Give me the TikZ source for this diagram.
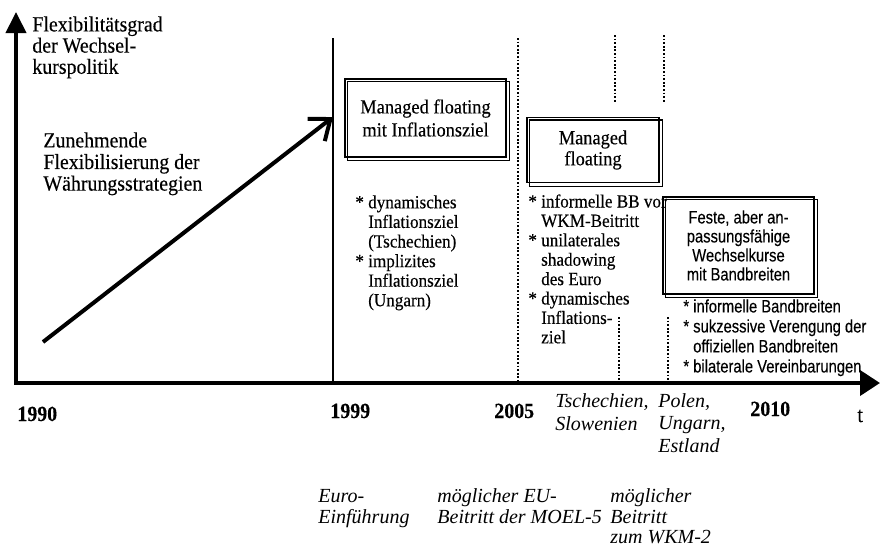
\documentclass[tikz,border=0pt]{standalone}
\usepackage{fontspec}
\setmainfont{Liberation Serif}
\newfontfamily\schmal[FakeStretch=0.92, FakeBold=0.25]{Liberation Serif}
\newfontfamily\schmalsans[FakeStretch=0.82, FakeBold=0.2]{Liberation Sans}
\usepackage{tikz}
\usetikzlibrary{arrows.meta}

\newcommand{\einr}{\hphantom{*\ }}

\begin{document}
\begin{tikzpicture}[
        x=0.5pt, y=-0.5pt,
        achse/.style={line width=2pt, line join=miter, {Triangle[length=10.5pt, width=10pt]}-{Triangle[length=10pt, width=12.5pt]}},
        trend/.style={line width=2pt, -{Straight Barb[length=9pt, width=14pt]}},
        grenze/.style={line width=0.8pt},
        termin/.style={line width=1.3pt, dash pattern=on 0.9pt off 0.9pt},
        stufe/.style={draw, line width=0.7pt, align=center, inner sep=0pt},
        rahmen/.style={line width=0.7pt},
        titel/.style={anchor=north west, inner sep=0pt, align=left, font=\schmal\fontsize{10.8}{10.6}\selectfont},
        liste/.style={anchor=north west, inner sep=0pt, align=left, font=\schmal\fontsize{9.3}{9.8}\selectfont},
        jahr/.style={anchor=base west, inner sep=0pt, font=\schmal\bfseries\fontsize{10.8}{12}\selectfont},
        ereignis/.style={anchor=north west, inner sep=0pt, align=left, font=\itshape\fontsize{10}{11.4}\selectfont}
    ]
    \useasboundingbox (0,0) rectangle (880,548);

    % Achsen
    \coordinate (ursprung) at (16,383);
    \coordinate (ytop) at (16,12);
    \coordinate (xend) at (880,383);
    \draw[achse] (ytop) -- (ursprung) -- (xend);

    \node[titel] (ytitel) at (32,16) {Flexibilitätsgrad\\der Wechsel-\\kurspolitik};
    \node[titel, font=\schmal\fontsize{10.8}{10.8}\selectfont] (flex) at (43,132) {Zunehmende\\Flexibilisierung der\\Währungsstrategien};

    % Zeitpunkte
    \coordinate (l99) at (333,38);
    \coordinate (l05) at (518,38);
    \coordinate (l04a) at (615,35);
    \coordinate (l04b) at (615,103);
    \coordinate (l04c) at (619,317);
    \coordinate (l07a) at (664,35);
    \coordinate (l07b) at (664,103);
    \coordinate (l07c) at (668,317);
    \draw[grenze] (l99) -- (l99 |- ursprung);
    \draw[termin] (l05) -- (l05 |- ursprung);
    \draw[termin] (l04a) -- (l04b);
    \draw[termin] (l04c) -- (l04c |- ursprung);
    \draw[termin] (l07a) -- (l07b);
    \draw[termin] (l07c) -- (l07c |- ursprung);

    \coordinate (trendstart) at (43,342);
    \coordinate (trendziel) at (333,117);
    \draw[trend] (trendstart) -- (trendziel);

    % Strategien
    \node[stufe, minimum width=80.5pt, minimum height=39pt, font=\schmal\fontsize{10}{11.5}\selectfont] (mf99) at (425.5,118) {Managed floating\\mit Inflationsziel};
    \node[liste] (liste99) at (355,195) {* dynamisches\\\einr Inflationsziel\\\einr (Tschechien)\\* implizites\\\einr Inflationsziel\\\einr (Ungarn)};

    \node[stufe, minimum width=66pt, minimum height=32.5pt, font=\schmal\fontsize{10}{10.5}\selectfont] (mf05) at (593,150) {Managed\\floating};
    \node[liste, font=\schmal\fontsize{9.3}{9.7}\selectfont] (liste05) at (528,194) {* informelle BB vor\\\einr WKM-Beitritt\\* unilaterales\\\einr shadowing\\\einr des Euro\\* dynamisches\\\einr Inflations-\\\einr ziel};

    \node[stufe, minimum width=75.5pt, minimum height=48.5pt, font=\schmalsans\fontsize{9}{9.5}\selectfont] (band) at (738.5,245.5) {Feste, aber an-\\passungsfähige\\Wechselkurse\\mit Bandbreiten};
    \node[liste, font=\schmalsans\fontsize{9}{10}\selectfont] (listeband) at (683,299) {* informelle Bandbreiten\\* sukzessive Verengung der\\\einr offiziellen Bandbreiten\\* bilaterale Vereinbarungen};

    % zweiter Rahmen, leicht versetzt
    \foreach \b in {mf99, mf05, band}
        \draw[rahmen] ([shift={(3,3)}]\b.north west) rectangle ([shift={(3,3)}]\b.south east);

    % Zeitachse
    \node[jahr] (j1990) at (17,421) {1990};
    \node[jahr] (j1999) at (330,418) {1999};
    \node[jahr] (j2005) at (494,418) {2005};
    \node[jahr] (j2010) at (750,416) {2010};
    \node[jahr, font=\schmal\fontsize{11}{12}\selectfont] (zeit) at (857,422) {t};

    \node[ereignis] (tsch) at (555,393) {Tschechien,\\Slowenien};
    \node[ereignis, font=\itshape\fontsize{10}{11.2}\selectfont] (polen) at (658,393) {Polen,\\Ungarn,\\Estland};
    \node[ereignis, font=\itshape\fontsize{10}{10.4}\selectfont] (euro) at (318,489) {Euro-\\Einführung};
    \node[ereignis, font=\itshape\fontsize{10}{10.4}\selectfont] (eu) at (437,488) {möglicher EU-\\Beitritt der MOEL-5};
    \node[ereignis, font=\itshape\fontsize{10}{10.4}\selectfont] (wkm) at (610,488) {möglicher\\Beitritt\\zum WKM-2};
\end{tikzpicture}
\end{document}
